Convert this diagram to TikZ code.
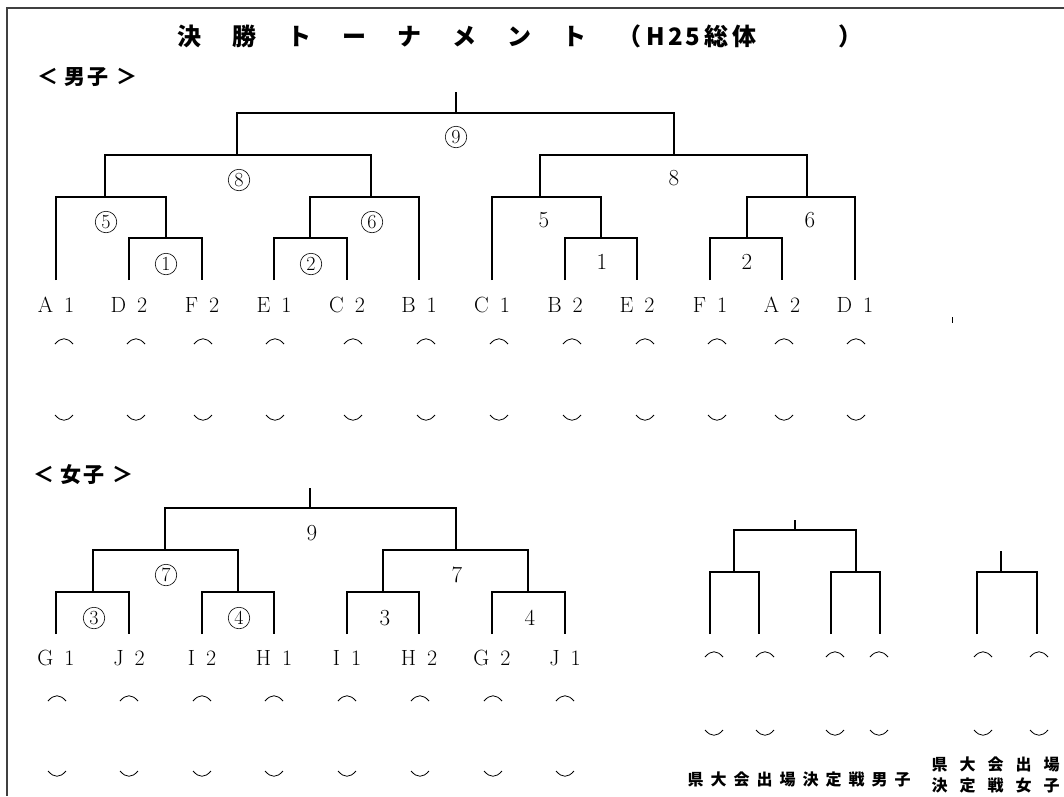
\documentclass[tikz,border=0pt]{standalone}
\usepackage{fontspec}
\newfontfamily\jpfont{Noto Sans CJK JP}
\usetikzlibrary{positioning}

\newcommand{\tgap}{\hspace{31pt}}
\newcommand{\kgap}{\hspace{7pt}}
\newcommand{\jgap}{\hspace{12pt}}

\begin{document}
\begin{tikzpicture}[x=1pt,y=-1pt,line width=1.2pt,
    leaf/.style={font=\fontsize{22}{22}\selectfont,inner sep=0pt},
    num/.style={font=\fontsize{23}{23}\selectfont,inner sep=0pt},
    cnum/.style={circle,draw,line width=0.6pt,inner sep=0pt,minimum size=21.5pt,font=\fontsize{20}{20}\selectfont},
    jp/.style={font=\jpfont\bfseries\fontsize{#1}{#1}\selectfont,inner sep=0pt,anchor=west},
    hook/.style={line width=0.8pt}]

\useasboundingbox (0,0) rectangle (1064,796);
\draw[line width=1.4pt,black!75] (1064,8) -- (7,8) -- (7,796);

% headings
\node[jp=24] (title) at (177,36) {決\tgap 勝\tgap ト\tgap ー\tgap ナ\tgap メ\tgap ン\tgap ト\tgap （\hspace{5pt}H\hspace{3pt}2\hspace{3pt}5\hspace{4pt}総\hspace{4pt}体\hspace{82pt}）};
\node[jp=21] (boys) at (37,77) {＜\hspace{6pt}男\hspace{2pt}子\hspace{8pt}＞};
\node[jp=21] (girls) at (33,475) {＜\hspace{6pt}女\hspace{2pt}子\hspace{8pt}＞};

% boys
\foreach \n/\x/\l/\d in {a1/56/A/1,d2/129/D/2,f2/202/F/2,e1/274/E/1,c2/347/C/2,b1/419/B/1,
    c1/492/C/1,b2/565/B/2,e2/637/E/2,f1/710/F/1,a2/782/A/2,d1/855/D/1}{
  \coordinate (\n) at (\x,280);
  \node[leaf] (lab\n) at (\x,305) {\l\enspace\d};
}
\coordinate (m1) at (166,238);
\coordinate (m2) at (310,238);
\coordinate (n1) at (601,238);
\coordinate (n2) at (747,238);
\coordinate (m5) at (105,197);
\coordinate (m6) at (371,197);
\coordinate (n5) at (540,197);
\coordinate (n6) at (807,197);
\coordinate (m8) at (237,155);
\coordinate (n8) at (674,155);
\coordinate (m9) at (456,113);
\coordinate (mtop) at (456,92);

\draw (d2) |- (m1) -| (f2);
\draw (e1) |- (m2) -| (c2);
\draw (b2) |- (n1) -| (e2);
\draw (f1) |- (n2) -| (a2);
\draw (a1) |- (m5) -| (m1);
\draw (m2) |- (m6) -| (b1);
\draw (c1) |- (n5) -| (n1);
\draw (n2) |- (n6) -| (d1);
\draw (m5) |- (m8) -| (m6);
\draw (n5) |- (n8) -| (n6);
\draw (m8) |- (m9) -| (n8);
\draw (m9) -- (mtop);

\node[cnum] (g9) at (456,137) {9};
\node[cnum] (g8) at (239,180) {8};
\node[num] (h8) at (674,178) {8};
\node[cnum] (g5) at (106,222) {5};
\node[cnum] (g6) at (372,222) {6};
\node[num] (h5) at (544,220) {5};
\node[num] (h6) at (810,220) {6};
\node[cnum] (g1) at (166,264) {1};
\node[cnum] (g2) at (311,264) {2};
\node[num] (h1) at (602,262) {1};
\node[num] (h2) at (747,262) {2};

\foreach \x in {64,136,203,275,353,426,499,572,645,717,784,856}{
  \draw[hook] (\x-9,344) .. controls (\x-3,337) and (\x+3,337) .. (\x+9,344);
  \draw[hook] (\x-9,415) .. controls (\x-3,422) and (\x+3,422) .. (\x+9,415);
}
\draw[line width=0.8pt] (952,317) -- (952,323);

% girls
\foreach \n/\x/\l/\d in {wg1/56/G/1,wj2/129/J/2,wi2/202/I/2,wh1/274/H/1,
    wi1/347/I/1,wh2/419/H/2,wg2/492/G/2,wj1/565/J/1}{
  \coordinate (\n) at (\x,634);
  \node[leaf] (lab\n) at (\x,658) {\l\enspace\d};
}
\coordinate (w3) at (93,592);
\coordinate (w4) at (238,592);
\coordinate (v3) at (383,592);
\coordinate (v4) at (528,592);
\coordinate (w7) at (165,550);
\coordinate (v7) at (456,550);
\coordinate (w9) at (310,508);
\coordinate (wtop) at (310,488);

\draw (wg1) |- (w3) -| (wj2);
\draw (wi2) |- (w4) -| (wh1);
\draw (wi1) |- (v3) -| (wh2);
\draw (wg2) |- (v4) -| (wj1);
\draw (w3) |- (w7) -| (w4);
\draw (v3) |- (v7) -| (v4);
\draw (w7) |- (w9) -| (v7);
\draw (w9) -- (wtop);

\node[cnum] (k3) at (94,618) {3};
\node[cnum] (k4) at (239,618) {4};
\node[num] (l3) at (385,618) {3};
\node[num] (l4) at (530,618) {4};
\node[cnum] (k7) at (166,575) {7};
\node[num] (l7) at (457,575) {7};
\node[num] (l9) at (312,533) {9};

\foreach \x in {57,129,202,274,347,420,493,565}{
  \draw[hook] (\x-9,701) .. controls (\x-3,694) and (\x+3,694) .. (\x+9,701);
  \draw[hook] (\x-9,771) .. controls (\x-3,778) and (\x+3,778) .. (\x+9,771);
}

% qualifiers
\foreach \n/\x in {q1/710,q2/759,q3/831,q4/880,p1/977,p2/1037}{
  \coordinate (\n) at (\x,634);
}
\coordinate (qa) at (734,572);
\coordinate (qb) at (856,572);
\coordinate (qc) at (795,530);
\coordinate (qtop) at (795,520);
\coordinate (pa) at (1001,572);
\coordinate (ptop) at (1001,551);

\draw (q1) |- (qa) -| (q2);
\draw (q3) |- (qb) -| (q4);
\draw (qa) |- (qc) -| (qb);
\draw (qc) -- (qtop);
\draw (p1) |- (pa) -| (p2);
\draw (pa) -- (ptop);

\foreach \x in {714,765,835,879,983,1039}{
  \draw[hook] (\x-9,657) .. controls (\x-3,650) and (\x+3,650) .. (\x+9,657);
  \draw[hook] (\x-9,730) .. controls (\x-3,737) and (\x+3,737) .. (\x+9,730);
}

\node[jp=16] (qboys) at (687,779) {県\kgap 大\kgap 会\kgap 出\kgap 場\kgap 決\kgap 定\kgap 戦\kgap 男\kgap 子};
\node[jp=16,align=left,font=\jpfont\bfseries\fontsize{16}{21}\selectfont] (qgirls) at (931,775) {県\jgap 大\jgap 会\jgap 出\jgap 場\\決\jgap 定\jgap 戦\jgap 女\jgap 子};
\end{tikzpicture}
\end{document}
